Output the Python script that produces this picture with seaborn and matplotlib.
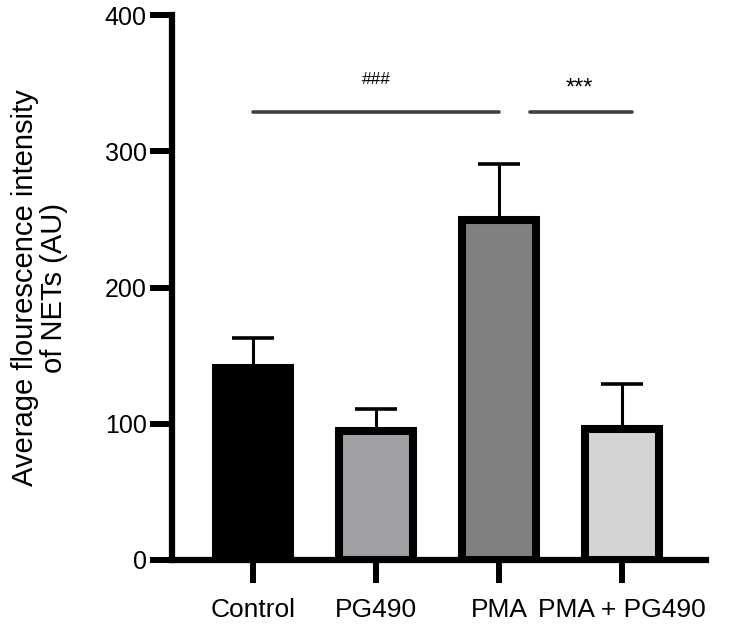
import pandas as pd
import numpy as np
import seaborn as sns
import matplotlib
matplotlib.use("Agg")
import matplotlib.pyplot as plt

# Datos
grupos = ["Control", "PG490", "PMA", "PMA + PG490"]
media = [141, 95, 250, 96]
error_sup = [22, 16, 41, 33]
colores = ["#000000", "#a1a1a5", "#808080", "#d4d4d4"]

sns.set_style("ticks")
plt.rcParams["font.family"] = ["Liberation Sans", "DejaVu Sans"]
plt.rcParams["text.color"] = "black"
plt.rcParams["axes.labelcolor"] = "black"
plt.rcParams["xtick.color"] = "black"
plt.rcParams["ytick.color"] = "black"
plt.rcParams["axes.edgecolor"] = "black"

df = pd.DataFrame({"grupo": grupos, "media": media})

fig = plt.figure(figsize=(7.44, 6.24), dpi=100)
ax = fig.add_axes([0.231, 0.1026, 0.718, 0.873])

sns.barplot(data=df, x="grupo", y="media", hue="grupo", palette=colores,
            width=0.60, edgecolor="black", linewidth=5.8, errorbar=None,
            legend=False, ax=ax, zorder=3)

# Barras de error solo hacia arriba
x = np.arange(len(grupos))
ax.errorbar(x, media, yerr=[np.zeros(len(media)), error_sup], fmt="none",
            ecolor="black", elinewidth=2.2, capsize=14.8, capthick=2.6, zorder=2)

# Líneas de significación
y_sig = 329
ax.plot([0, 2], [y_sig, y_sig], color="#404040", lw=2.6)
ax.plot([2.25, 3.08], [y_sig, y_sig], color="#404040", lw=2.6)
ax.text(1.0, 353, "###", ha="center", va="center", fontsize=12.5)
ax.text(2.65, 346, "***", ha="center", va="center", fontsize=17)

ax.set_ylim(0, 400)
ax.set_xlim(-0.66, 3.68)
ax.set_yticks([0, 100, 200, 300, 400])
ax.set_xlabel("")
ax.set_ylabel("Average flourescence intensity\nof NETs (AU)", fontsize=21,
              linespacing=1.05)
ax.yaxis.set_label_coords(-0.195, 0.5)

for s in ["top", "right"]:
    ax.spines[s].set_visible(False)
for s in ["left", "bottom"]:
    ax.spines[s].set_linewidth(4.5)
ax.tick_params(axis="y", length=16, width=4.3, labelsize=18, pad=2)
ax.tick_params(axis="x", length=16.5, width=4.3, labelsize=19, pad=11)

plt.savefig("out.png", dpi=100)
